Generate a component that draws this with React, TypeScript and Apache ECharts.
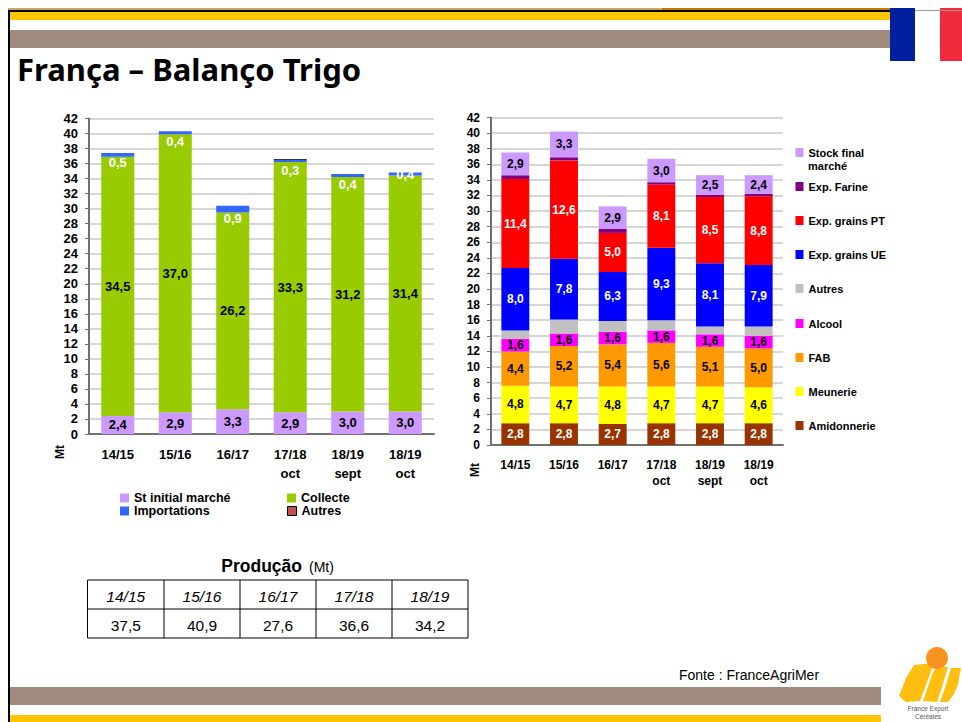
import React, { useEffect, useRef } from "react";
import * as echarts from "echarts";

const FONT = '"Liberation Sans", Arial, sans-serif';

const leftCategories = ["14/15", "15/16", "16/17", "17/18\noct", "18/19\nsept", "18/19\noct"];
const stInitial = [2.4, 2.9, 3.3, 2.9, 3.0, 3.0];
const collecte = [34.5, 37.0, 26.2, 33.3, 31.2, 31.4];
const importations = [0.5, 0.4, 0.9, 0.3, 0.4, 0.4];
const importLabelShift = [8, 9, 9.5, 10, 9, 0];
const autresLeft = [null, null, null, 0.1, null, null];

const amidonnerie = [2.8, 2.8, 2.7, 2.8, 2.8, 2.8];
const meunerie = [4.8, 4.7, 4.8, 4.7, 4.7, 4.6];
const fab = [4.4, 5.2, 5.4, 5.6, 5.1, 5.0];
const alcool = [1.6, 1.6, 1.6, 1.6, 1.6, 1.6];
const autresRight = [1.1, 1.8, 1.4, 1.3, 1.0, 1.2];
const expUE = [8.0, 7.8, 6.3, 9.3, 8.1, 7.9];
const expPT = [11.4, 12.6, 5.0, 8.1, 8.5, 8.8];
const expFarine = [0.5, 0.4, 0.5, 0.3, 0.3, 0.3];
const stockFinal = [2.9, 3.3, 2.9, 3.0, 2.5, 2.4];

const tableYears = ["14/15", "15/16", "16/17", "17/18", "18/19"];
const tableValues = ["37,5", "40,9", "27,6", "36,6", "34,2"];

const fmt = (p: any) => (p.value == null ? "" : Number(p.value).toFixed(1).replace(".", ","));

function barSeries(name: string, data: any[], color: string, axis: number, labelColor: string | null, size: number, extra: any = {}) {
  return {
    type: "bar",
    name,
    data,
    xAxisIndex: axis,
    yAxisIndex: axis,
    stack: axis === 0 ? "bilan" : "emplois",
    barWidth: "57.4%",
    itemStyle: { color },
    label: labelColor
      ? { show: true, position: "inside", formatter: fmt, color: labelColor, fontFamily: FONT, fontWeight: "bold", fontSize: size }
      : { show: false },
    ...extra,
  };
}

function axes(index: number, cats: string[], fontY: number, fontX: number, lineHeight: number, margin: number) {
  return {
    x: {
      type: "category",
      gridIndex: index,
      data: cats,
      axisTick: { show: false },
      axisLine: { lineStyle: { color: "#707070", width: 2 } },
      axisLabel: { interval: 0, color: "#000", fontFamily: FONT, fontWeight: "bold", fontSize: fontX, lineHeight, margin },
    },
    y: {
      type: "value",
      gridIndex: index,
      min: 0,
      max: 42,
      interval: 2,
      axisTick: { show: true, length: 4, lineStyle: { color: "#707070" } },
      axisLine: { show: true, lineStyle: { color: "#707070", width: 2 } },
      axisLabel: { color: "#000", fontFamily: FONT, fontWeight: "bold", fontSize: fontY, margin: 11 },
      splitLine: { lineStyle: { color: "#C8C8C8", width: 1.5 } },
    },
  };
}

function rect(x: number, y: number, w: number, h: number, fill: string) {
  return { type: "rect", shape: { x, y, width: w, height: h }, style: { fill }, silent: true };
}
function txt(text: string, x: number, y: number, size: number, extra: any = {}) {
  return {
    type: "text",
    x,
    y,
    silent: true,
    style: { text, fontSize: size, fontFamily: FONT, fill: "#000", align: "center", verticalAlign: "middle", ...(extra.style || {}) },
    ...(extra.el || {}),
  };
}

const tableX = [87.5, 164, 240, 316, 392, 468];
const tableY = [580, 609, 638];

function tableGraphics() {
  const out: any[] = [];
  tableX.forEach((x) => out.push({ type: "line", shape: { x1: x, y1: tableY[0], x2: x, y2: tableY[2] }, style: { stroke: "#000", lineWidth: 1 }, silent: true }));
  tableY.forEach((y) => out.push({ type: "line", shape: { x1: tableX[0], y1: y, x2: tableX[5], y2: y }, style: { stroke: "#000", lineWidth: 1 }, silent: true }));
  tableYears.forEach((t, i) => out.push(txt(t, (tableX[i] + tableX[i + 1]) / 2, 596, 15.5, { style: { fontStyle: "italic" } })));
  tableValues.forEach((t, i) => out.push(txt(t, (tableX[i] + tableX[i + 1]) / 2, 625, 15.5)));
  return out;
}

const pageGraphics: any[] = [
  rect(8, 8, 654, 2, "#C8A868"),
  rect(662, 8, 228, 2, "#C87800"),
  rect(8, 10, 882, 2, "#000"),
  rect(8, 12, 882, 8, "#FFC600"),
  rect(8, 30, 882, 18, "#9E8B7D"),
  rect(8, 10, 2, 712, "#000"),
  rect(10, 687, 871, 18, "#9E8B7D"),
  rect(10, 715, 871, 7, "#FFC600"),
  rect(890, 8, 25, 53, "#00209F"),
  rect(915, 10, 25, 1, "#999"),
  rect(940, 8, 22, 53, "#EF2B3D"),
  rect(940, 10, 22, 1, "#999"),
  txt("França – Balanço Trigo", 17, 69, 31, { style: { align: "left", fontFamily: '"Noto Sans", sans-serif', fontWeight: "bold" } }),
  txt("Mt", 60, 452, 12, { style: { fontWeight: "bold" }, el: { rotation: Math.PI / 2 } }),
  txt("Mt", 475, 470, 12, { style: { fontWeight: "bold" }, el: { rotation: Math.PI / 2 } }),
  txt("Produção", 302, 566, 17.5, { style: { fontWeight: "bold", align: "right" } }),
  txt("(Mt)", 309, 567, 14, { style: { align: "left" } }),
  txt("marché", 808, 166, 11, { style: { align: "left", fontWeight: "bold" } }),
  ...tableGraphics(),
  txt("Fonte : FranceAgriMer", 679, 675, 14, { style: { align: "left" } }),
  { type: "polygon", shape: { points: [[899, 696], [906, 678], [914, 665], [934, 663], [926, 685], [920, 701], [906, 702]] }, style: { fill: "#FFBE10" }, silent: true },
  { type: "polygon", shape: { points: [[923, 701], [932, 675], [936, 667], [948, 667], [941, 690], [937, 702]] }, style: { fill: "#FFBE10" }, silent: true },
  { type: "polygon", shape: { points: [[940, 702], [946, 685], [951, 668], [961, 668], [958, 684], [954, 694], [948, 702]] }, style: { fill: "#FFBE10" }, silent: true },
  { type: "circle", shape: { cx: 937, cy: 658, r: 11 }, style: { fill: "#F79420" }, silent: true },
  txt("France Export", 928, 708, 6.5, { style: { fill: "#555" } }),
  txt("Céréales", 928, 716, 6.5, { style: { fill: "#555" } }),
];

const baseTextLeft = { fontFamily: FONT, fontWeight: "bold", fontSize: 12.5, lineHeight: 12.5, color: "#000" };
const baseTextRight = { fontFamily: FONT, fontWeight: "bold", fontSize: 11, color: "#000" };

function leftLegend(name: string, color: string, left: number, top: number, border?: string) {
  return {
    show: true,
    left,
    top,
    padding: 0,
    selectedMode: false,
    itemWidth: 9,
    itemHeight: 9,
    textStyle: baseTextLeft,
    data: [{ name, icon: "rect", itemStyle: { color, borderColor: border || color, borderWidth: border ? 1 : 0 } }],
  };
}
function rightLegend(name: string, color: string, top: number) {
  return {
    show: true,
    left: 795.5,
    top,
    padding: 0,
    selectedMode: false,
    itemWidth: 8,
    itemHeight: 9,
    textStyle: baseTextRight,
    formatter: (n: string) => (n === "Stock final marché" ? "Stock final" : n),
    data: [{ name, icon: "rect", itemStyle: { color, borderWidth: 0 } }],
  };
}

export default function App() {
  const ref = useRef<HTMLDivElement>(null);
  useEffect(() => {
    const chart = echarts.init(ref.current!, undefined, { renderer: "svg" });
    const a0 = axes(0, leftCategories, 13, 13, 19, 10.5);
    const a1 = axes(1, leftCategories, 12, 12, 16, 12);
    chart.setOption({
      animation: false,
      backgroundColor: "#fff",
      grid: [
        { left: 89, top: 118.5, width: 345, height: 315.5 },
        { left: 491, top: 117.5, width: 292, height: 327.5 },
      ],
      xAxis: [a0.x, a1.x],
      yAxis: [a0.y, a1.y],
      legend: [
        leftLegend("St initial marché", "#CC99FF", 120, 491.5),
        leftLegend("Collecte", "#99CC00", 287, 491.5),
        leftLegend("Importations", "#3366FF", 120, 504.5),
        leftLegend("Autres", "#C0504D", 287, 504.5, "#000"),
        rightLegend("Stock final marché", "#CC99FF", 147),
        rightLegend("Exp. Farine", "#800080", 181),
        rightLegend("Exp. grains PT", "#FF0000", 215),
        rightLegend("Exp. grains UE", "#0000FF", 249),
        rightLegend("Autres", "#C0C0C0", 283),
        rightLegend("Alcool", "#FF00FF", 318),
        rightLegend("FAB", "#FF9900", 352),
        rightLegend("Meunerie", "#FFFF00", 386),
        rightLegend("Amidonnerie", "#993300", 420),
      ],
      series: [
        barSeries("St initial marché", stInitial, "#CC99FF", 0, "#000", 13),
        barSeries("Collecte", collecte, "#99CC00", 0, "#000", 13),
        barSeries(
          "Importations",
          importations.map((value, i) => ({ value, label: { offset: [0, importLabelShift[i]] } })),
          "#3366FF",
          0,
          "#fff",
          13
        ),
        barSeries("Autres", autresLeft, "#000000", 0, null, 13),
        barSeries("Amidonnerie", amidonnerie, "#993300", 1, "#fff", 12),
        barSeries("Meunerie", meunerie, "#FFFF00", 1, "#000", 12),
        barSeries("FAB", fab, "#FF9900", 1, "#000", 12),
        barSeries("Alcool", alcool, "#FF00FF", 1, "#000", 12),
        barSeries("Autres", autresRight, "#C0C0C0", 1, null, 12),
        barSeries("Exp. grains UE", expUE, "#0000FF", 1, "#fff", 12),
        barSeries("Exp. grains PT", expPT, "#FF0000", 1, "#fff", 12),
        barSeries("Exp. Farine", expFarine, "#800080", 1, null, 12),
        barSeries("Stock final marché", stockFinal, "#CC99FF", 1, "#000", 12),
      ],
      graphic: pageGraphics,
    });
    return () => chart.dispose();
  }, []);
  return <div ref={ref} style={{ position: "absolute", left: 0, top: 0, width: 962, height: 722 }} />;
}
